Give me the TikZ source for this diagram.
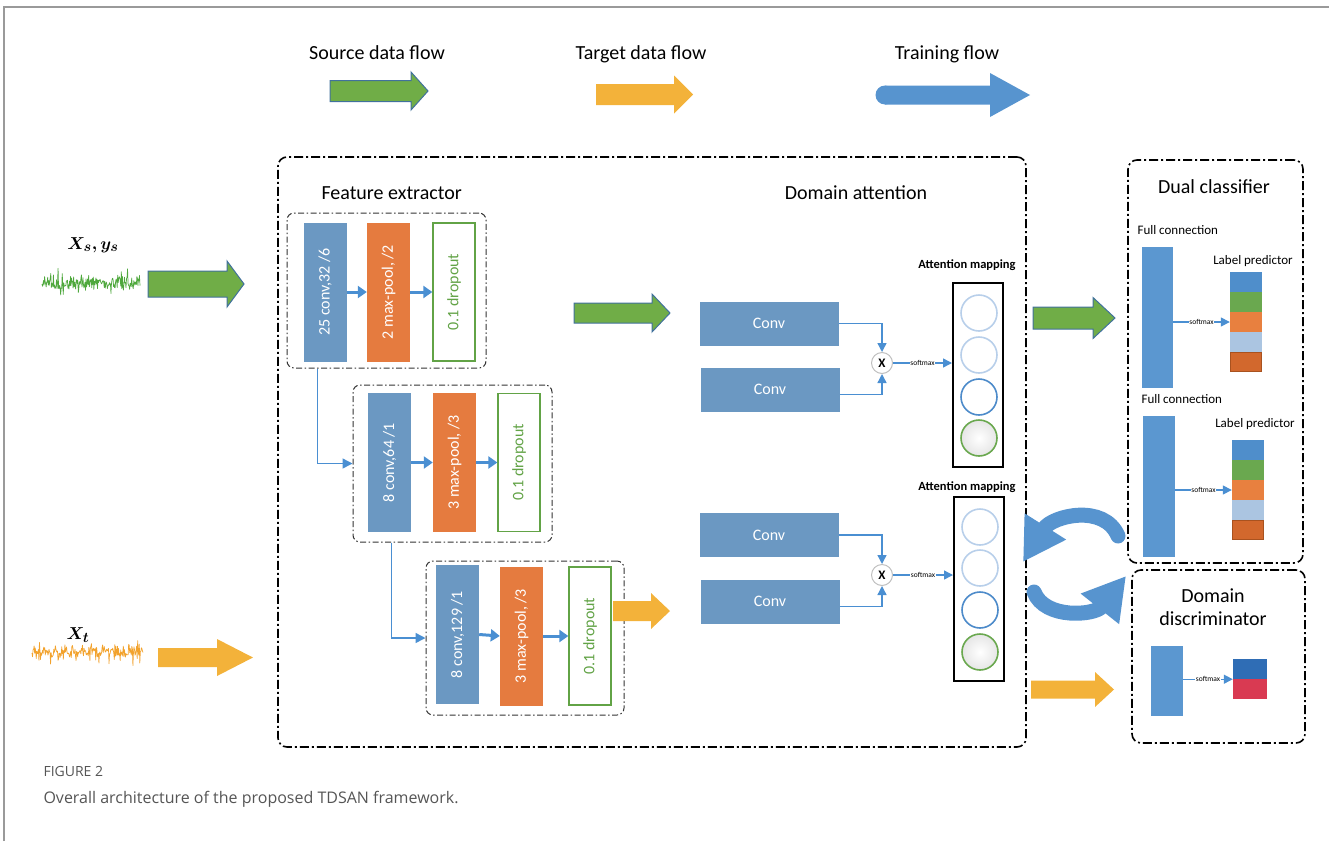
\documentclass[tikz,border=0pt]{standalone}
\usepackage{amsmath,bm}
\usepackage{fontspec}
\setmainfont{Carlito}
\newfontfamily\capfont{Open Sans}
\usetikzlibrary{arrows.meta,calc}
\definecolor{legGreen}{HTML}{70AD47}
\definecolor{legEdge}{HTML}{41719C}
\definecolor{gold}{HTML}{F3B23A}
\definecolor{trainBlue}{HTML}{5794CF}
\definecolor{blockBlue}{HTML}{6B98C2}
\definecolor{blockOrange}{HTML}{E57B3F}
\definecolor{dropGreen}{HTML}{62A346}
\definecolor{connBlue}{HTML}{4A8FD2}
\definecolor{barBlue}{HTML}{5B97D0}
\definecolor{circLight}{HTML}{B8CFEA}
\definecolor{circMid}{HTML}{4D8BCA}
\definecolor{sBlue}{HTML}{4F8ECB}
\definecolor{sGreen}{HTML}{6AA84F}
\definecolor{sOrange}{HTML}{E8803F}
\definecolor{sLight}{HTML}{ABC5E1}
\definecolor{sDark}{HTML}{D2682D}
\definecolor{sDarkEdge}{HTML}{A9521F}
\definecolor{dBlue}{HTML}{2F6DB5}
\definecolor{dRed}{HTML}{D93A52}
\definecolor{capGray}{HTML}{555555}
\definecolor{frameGray}{HTML}{9A9A9A}
\definecolor{sigGreen}{HTML}{4FA83D}
\definecolor{sigOrange}{HTML}{F2A22C}
% fat block arrow: [style]{x start}{x tip}{y centre}{body half}{head half}{head base x}
\newcommand\fatarrow[7][]{%
  \path[#1] (#2,{#4-#5}) -- (#7,{#4-#5}) -- (#7,{#4-#6}) -- (#3,#4)
    -- (#7,{#4+#6}) -- (#7,{#4+#5}) -- (#2,{#4+#5}) -- cycle;}
\begin{document}
\begin{tikzpicture}[x=1pt,y=-1pt,
  f20/.style={font=\fontsize{20}{24}\selectfont},
  dbox/.style={draw=black, line width=1.6pt, rounded corners=9pt,
    dash pattern=on 9pt off 3pt on 2pt off 3pt, inner sep=0pt},
  ibox/.style={draw=black!80, line width=1pt, rounded corners=7pt,
    dash pattern=on 6pt off 2.5pt on 1.5pt off 2.5pt, inner sep=0pt},
  cbox/.style={fill=blockBlue, inner sep=0pt, minimum width=43pt, minimum height=139pt},
  obox/.style={fill=blockOrange, inner sep=0pt, minimum width=43pt, minimum height=139pt},
  gbox/.style={draw=dropGreen, line width=1.3pt, fill=white, inner sep=0pt,
    minimum width=42pt, minimum height=138pt},
  vtext/.style={rotate=90, font=\fontsize{16}{18}\selectfont},
  barrow/.style={draw=connBlue, line width=3pt, -{Triangle[length=9pt,width=12pt]}},
  fconn/.style={draw=connBlue, line width=1.5pt, -{Triangle[length=10pt,width=10pt]}},
  sconn/.style={draw=connBlue, line width=1.4pt, -{Triangle[length=9pt,width=9pt]}},
  convbox/.style={fill=blockBlue, inner sep=0pt, minimum width=139pt, minimum height=44pt,
    text=white, font=\fontsize{16}{18}\selectfont},
  mult/.style={circle, draw=black!25, line width=1pt, fill=white, minimum size=21pt,
    inner sep=0pt, font=\bfseries\fontsize{13}{14}\selectfont},
  attbox/.style={draw=black, line width=2pt, inner sep=0pt, minimum width=50pt, minimum height=184pt},
  attc/.style={circle, line width=1.6pt, minimum size=36pt, inner sep=0pt, fill=white},
  smx/.style={fill=white, inner sep=0.6pt, font=\fontsize{7.5}{8}\selectfont},
  bar/.style={fill=barBlue, inner sep=0pt, minimum width=31pt, minimum height=141pt},
  cell/.style={inner sep=0pt, minimum width=32pt, minimum height=20pt},
  small/.style={font=\fontsize{13}{15}\selectfont},
  attl/.style={font=\bfseries\fontsize{12.5}{14}\selectfont},
  trarrow/.style={line width=15pt, draw=trainBlue, line cap=round,
    -{Triangle[length=42pt,width=46pt]}}
]
\useasboundingbox (0,0) rectangle (1329,841);
% page frame
\draw[frameGray, line width=1.5pt] (4,841) -- (4,7) -- (1329,7);

% ---------- legend ----------
\node[f20, anchor=base] (lsrc) at (377,59) {Source data flow};
\node[f20, anchor=base] (ltgt) at (641,59) {Target data flow};
\node[f20, anchor=base] (ltrn) at (947,59) {Training flow};
\fatarrow[fill=legGreen, draw=legEdge, line width=1pt]{330}{428}{91}{10.5}{19}{411}
\fatarrow[fill=gold]{596}{693}{94.5}{10.5}{19}{674}
\fill[trainBlue] (885,95) circle (9.5);
\fatarrow[fill=trainBlue]{885}{1030}{95}{9.5}{22}{990}

% ---------- input signals ----------
\pgfmathsetseed{7}
\draw[sigGreen, line width=0.7pt, line join=round]
  plot[domain=42:140, samples=190] (\x, {283 + 6*rand + 14*rand*rand*rand});
\node[font=\fontsize{19}{20}\selectfont] (xs) at (93,245) {$\bm{X_s, y_s}$};
\fatarrow[fill=legGreen, draw=legEdge, line width=1pt]{148}{244}{284}{13}{23}{227}
\pgfmathsetseed{11}
\draw[sigOrange, line width=0.7pt, line join=round]
  plot[domain=32:143, samples=210] (\x, {652 + 3.5*rand + 18*rand*rand*rand});
\node[font=\fontsize{19}{20}\selectfont] (xt) at (78,635) {$\bm{X_t}$};
\fatarrow[fill=gold]{158}{253}{657.5}{9.5}{18.5}{217}

% ---------- main box ----------
\node[dbox, minimum width=748pt, minimum height=590pt] (main) at (652,452) {};
\node[f20, anchor=base west] (fe) at (318,199) {Feature extractor};
\node[f20, anchor=base] (da) at (856,199) {Domain attention};

% block 1
\node[ibox, minimum width=199pt, minimum height=155pt] (b1) at (386.5,290.5) {};
\node[cbox] (c11) at (325,292) {};
\node[vtext, text=white] at (c11) {25 conv,32 /6};
\node[obox] (c12) at (388.5,292) {};
\node[vtext, text=white] at (c12) {2 max-pool, /2};
\node[gbox] (c13) at (454,292) {};
\node[vtext, text=dropGreen] at (c13) {0.1 dropout};
\draw[barrow] (c11.east) -- (c12.west);
\draw[barrow] (c12.east) -- (c13.west);

% block 2
\node[ibox, minimum width=199pt, minimum height=157pt] (b2) at (452.5,463.5) {};
\node[cbox] (c21) at (389.5,462.5) {};
\node[vtext, text=white] at (c21) {8 conv,64 /1};
\node[obox] (c22) at (454.5,462.5) {};
\node[vtext, text=white] at (c22) {3 max-pool, /3};
\node[gbox] (c23) at (519,462.5) {};
\node[vtext, text=dropGreen] at (c23) {0.1 dropout};
\draw[barrow] (c21.east) -- (c22.west);
\draw[barrow] (c22.east) -- (c23.west);

% block 3
\node[ibox, minimum width=198pt, minimum height=154pt] (b3) at (525,638) {};
\node[cbox] (c31) at (457.5,634.5) {};
\node[vtext, text=white] at (c31) {8 conv,129 /1};
\node[obox] (c32) at (521.5,636) {};
\node[vtext, text=white] at (c32) {3 max-pool, /3};
\node[gbox] (c33) at (590,636) {};
\node[vtext, text=dropGreen] at (c33) {0.1 dropout};
\draw[barrow] (c31.east) -- (c32.west);
\draw[barrow] (c32.east) -- (c33.west);

% block connectors
\coordinate (k1) at ([xshift=31pt]b1.south west);
\coordinate (k2) at ([xshift=39pt]b2.south west);
\draw[fconn] (k1) |- (b2.west);
\draw[fconn] (k2) |- (b3.west);

% flow arrows inside
\fatarrow[fill=legGreen, draw=legEdge, line width=1pt]{574}{670}{313}{10}{19}{652}
\fatarrow[fill=gold]{613}{670}{611}{10}{18}{651}

% ---------- domain attention (upper) ----------
\node[convbox] (cv1) at (769,323.5) {Conv};
\node[convbox] (cv2) at (770,389.5) {Conv};
\node[mult] (m1) at (882,363) {X};
\draw[sconn] (cv1.east) -| (m1.north);
\draw[sconn] ([yshift=-5pt]cv2.east) -| (m1.south);
\node[attbox] (at1) at (978,375) {};
\node[attc, draw=circLight] (a11) at (979,313) {};
\node[attc, draw=circLight] (a12) at (979,355) {};
\node[attc, draw=circMid] (a13) at (979,397) {};
\node[attc, draw=sGreen, inner color=white, outer color=black!10] (a14) at (979,438) {};
\draw[sconn] (m1.east) -- node[smx] {softmax} (at1.west |- m1.east);
\node[attl, anchor=base] (am1) at (967,268) {Attention mapping};

% ---------- domain attention (lower) ----------
\node[convbox] (cv3) at (769,535) {Conv};
\node[convbox] (cv4) at (770,601.5) {Conv};
\node[mult] (m2) at (882,575) {X};
\draw[sconn] (cv3.east) -| (m2.north);
\draw[sconn] ([yshift=-5pt]cv4.east) -| (m2.south);
\node[attbox] (at2) at (979,589) {};
\node[attc, draw=circLight] (a21) at (980,527) {};
\node[attc, draw=circLight] (a22) at (980,568) {};
\node[attc, draw=circMid] (a23) at (980,610) {};
\node[attc, draw=sGreen, inner color=white, outer color=black!10] (a24) at (980,652) {};
\draw[sconn] (m2.east) -- node[smx] {softmax} (at2.west |- m2.east);
\node[attl, anchor=base] (am2) at (967,490) {Attention mapping};

% ---------- arrows to the right ----------
\fatarrow[fill=legGreen, draw=legEdge, line width=1pt]{1033}{1115}{318}{11}{20.5}{1093}
\fatarrow[fill=gold]{1031}{1114}{689.5}{9}{17.5}{1095}

% ---------- dual classifier ----------
\node[dbox, minimum width=175pt, minimum height=403pt] (dc) at (1215.5,361.5) {};
\node[f20, anchor=base] (dct) at (1214,193) {Dual classifier};
\node[small, anchor=base west] (fc1) at (1134,234) {Full connection};
\node[bar] (bar1) at (1157.5,317.5) {};
\node[small, anchor=base] (lp1) at (1253,264) {Label predictor};
\node[cell, fill=sBlue] (s11) at (1246,282) {};
\node[cell, fill=sGreen] (s12) at (1246,302) {};
\node[cell, fill=sOrange] (s13) at (1246,322) {};
\node[cell, fill=sLight] (s14) at (1246,342) {};
\node[cell, fill=sDark, draw=sDarkEdge, line width=1pt, minimum width=31pt, minimum height=19pt] (s15) at (1246,362) {};
\draw[sconn] (bar1.east |- s13.west) -- node[smx] {softmax} (s13.west);

\node[small, anchor=base west] (fc2) at (1138,403) {Full connection};
\node[bar, minimum width=32pt] (bar2) at (1159,486.5) {};
\node[small, anchor=base] (lp2) at (1255,427) {Label predictor};
\node[cell, fill=sBlue] (s21) at (1248,450) {};
\node[cell, fill=sGreen] (s22) at (1248,470) {};
\node[cell, fill=sOrange] (s23) at (1248,490) {};
\node[cell, fill=sLight] (s24) at (1248,510) {};
\node[cell, fill=sDark, draw=sDarkEdge, line width=1pt, minimum width=31pt, minimum height=19pt] (s25) at (1248,530) {};
\draw[sconn] (bar2.east |- s23.west) -- node[smx] {softmax} (s23.west);

% ---------- domain discriminator ----------
\node[dbox, minimum width=173pt, minimum height=173pt] (dd) at (1218.5,656.5) {};
\node[f20, anchor=base] (ddt1) at (1213,602) {Domain};
\node[f20, anchor=base] (ddt2) at (1213,625) {discriminator};
\node[bar, minimum width=32pt, minimum height=70pt] (dbar) at (1167,681) {};
\node[cell, fill=dBlue, minimum width=34pt] (d1) at (1250,669) {};
\node[cell, fill=dRed, minimum width=34pt] (d2) at (1250,689) {};
\draw[sconn] (dbar.east |- d1.south west) -- node[smx] {softmax} (d1.south west);

% ---------- training flow (curved) ----------
\coordinate (u0) at (1118,536);
\coordinate (u1) at (1023,562);
\coordinate (l0) at (1034,592);
\coordinate (l1) at (1126,576);
\draw[trarrow] (u0) .. controls (1104,503) and (1052,516) .. (u1);
\draw[trarrow] (l0) .. controls (1045,620) and (1095,615) .. (l1);

% ---------- caption ----------
\node[anchor=base west, text=capGray, font=\capfont\fontsize{14}{16}\selectfont] (fig) at (40,776) {FIGURE 2};
\node[anchor=base west, text=capGray, font=\capfont\fontsize{16}{18}\selectfont] (cap) at (40,803) {Overall architecture of the proposed TDSAN framework.};
\end{tikzpicture}
\end{document}
